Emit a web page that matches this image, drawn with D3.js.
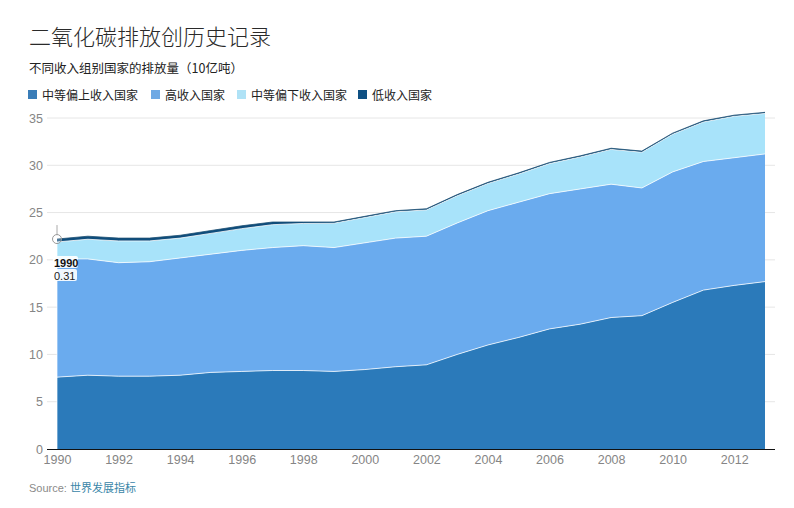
<!DOCTYPE html>
<html>
<head>
<meta charset="utf-8">
<script src="https://cdn.jsdelivr.net/npm/d3@7"></script>
<style>
  html, body { margin: 0; padding: 0; background: #fff; }
  svg { display: block; }
</style>
</head>
<body>
<svg id="chart" width="794" height="508"></svg>
<script>
const years = [1990,1991,1992,1993,1994,1995,1996,1997,1998,1999,2000,2001,2002,2003,2004,2005,2006,2007,2008,2009,2010,2011,2012,2013];
const seriesNames = ["中等偏上收入国家", "高收入国家", "中等偏下收入国家", "低收入国家"];
const upperMiddle = [7.6,7.8,7.7,7.7,7.8,8.1,8.2,8.3,8.3,8.2,8.4,8.7,8.9,10.0,11.0,11.8,12.7,13.2,13.9,14.1,15.5,16.8,17.3,17.7];
const highIncome  = [12.5,12.3,12.0,12.1,12.4,12.5,12.8,13.0,13.2,13.1,13.4,13.6,13.6,13.9,14.2,14.3,14.3,14.3,14.1,13.5,13.8,13.6,13.5,13.5];
const lowerMiddle = [1.79,2.08,2.3,2.2,2.1,2.2,2.3,2.42,2.35,2.58,2.68,2.78,2.78,2.88,2.88,2.98,3.18,3.38,3.68,3.78,3.98,4.18,4.38,4.28];
const lowIncome   = [0.31,0.32,0.30,0.30,0.30,0.30,0.30,0.28,0.15,0.12,0.12,0.12,0.12,0.12,0.12,0.12,0.12,0.12,0.12,0.12,0.12,0.12,0.12,0.12];
const yTicks = [0,5,10,15,20,25,30,35];
const xTicks = [1990,1992,1994,1996,1998,2000,2002,2004,2006,2008,2010,2012];
const colors = ["#2b7aba", "#6aabee", "#a8e3fa", "#0e4d7c"];
const legendColors = ["#3a7db8", "#6fa9e4", "#afe2f6", "#0f5083"];

const table = years.map((y, i) => ({
  year: y,
  [seriesNames[0]]: upperMiddle[i],
  [seriesNames[1]]: highIncome[i],
  [seriesNames[2]]: lowerMiddle[i],
  [seriesNames[3]]: lowIncome[i]
}));

const svg = d3.select("#chart");
const cjk = "'Noto Sans CJK SC', 'Noto Sans', sans-serif";
const latin = "'Liberation Sans', Arial, sans-serif";

// Title & subtitle
svg.append("text").attr("x", 29).attr("y", 45)
  .style("font-family", cjk).style("font-size", "22px").style("font-weight", 300)
  .attr("fill", "#2a2a2a").text("二氧化碳排放创历史记录");
svg.append("text").attr("x", 29).attr("y", 73)
  .style("font-family", cjk).style("font-size", "12.5px")
  .attr("fill", "#222").text("不同收入组别国家的排放量（10亿吨）");

// Legend
const legendX = [28, 151, 237, 358];
seriesNames.forEach((name, i) => {
  const g = svg.append("g").attr("transform", `translate(${legendX[i]},90)`);
  g.append("rect").attr("width", 9).attr("height", 9).attr("fill", legendColors[i]);
  g.append("text").attr("x", 14).attr("y", 9.5)
    .style("font-family", cjk).style("font-size", "12px")
    .attr("fill", "#222").text(name);
});

// Scales
const x = d3.scaleLinear().domain([1990, 2013]).range([57, 765]);
const y = d3.scaleLinear().domain([0, 35]).range([449, 118]);

// Grid
svg.append("g").selectAll("line").data(yTicks.filter(d => d > 0)).join("line")
  .attr("x1", 47).attr("x2", 775)
  .attr("y1", d => y(d)).attr("y2", d => y(d))
  .attr("stroke", "#e6e6e6").attr("stroke-width", 1);

// Stack
const stack = d3.stack().keys(seriesNames);
const stacked = stack(table);
const area = d3.area()
  .x(d => x(d.data.year))
  .y0(d => y(d[0]))
  .y1(d => y(d[1]))
  .curve(d3.curveLinear);
const topLine = d3.line()
  .x(d => x(d.data.year))
  .y(d => y(d[1]))
  .curve(d3.curveLinear);

svg.append("g").selectAll("path.area").data(stacked).join("path")
  .attr("class", "area")
  .attr("d", area)
  .attr("fill", (d, i) => colors[i]);

svg.append("g").selectAll("path.edge").data(stacked.slice(0, 3)).join("path")
  .attr("class", "edge")
  .attr("d", topLine)
  .attr("fill", "none")
  .attr("stroke", "rgba(255,255,255,0.75)")
  .attr("stroke-width", 1);

// top line of low income
svg.append("path").datum(stacked[3])
  .attr("d", topLine).attr("fill", "none")
  .attr("stroke", "#1d4f72").attr("stroke-width", 0.8);

// Axes
const yAxis = d3.axisLeft(y).tickValues(yTicks).tickSize(0).tickPadding(4);
const yg = svg.append("g").attr("transform", "translate(47,0)").call(yAxis);
yg.select(".domain").remove();
yg.selectAll("text").style("font-family", latin).style("font-size", "12.5px").attr("fill", "#858585");

const xAxis = d3.axisBottom(x).tickValues(xTicks).tickFormat(d3.format("d")).tickSize(0).tickPadding(6);
const xg = svg.append("g").attr("transform", "translate(0,449)").call(xAxis);
xg.select(".domain").remove();
xg.selectAll("text").style("font-family", latin).style("font-size", "12.5px").attr("fill", "#858585");
svg.append("line").attr("x1", 47).attr("x2", 775).attr("y1", 449.5).attr("y2", 449.5)
  .attr("stroke", "#111").attr("stroke-width", 1.2);

// Hover marker at 1990
const hx = x(years[0]);
const hy = y(stacked[3][0][1]);
svg.append("line").attr("x1", hx).attr("x2", hx).attr("y1", hy - 14).attr("y2", hy - 4)
  .attr("stroke", "#aaa").attr("stroke-width", 1);
svg.append("line").attr("x1", hx).attr("x2", hx).attr("y1", hy + 4).attr("y2", y(0))
  .attr("stroke", "rgba(255,255,255,0.7)").attr("stroke-width", 1);
svg.append("circle").attr("cx", hx).attr("cy", hy).attr("r", 4.5)
  .attr("fill", "rgba(255,255,255,0.25)").attr("stroke", "#999").attr("stroke-width", 1);

const tip = svg.append("g");
tip.append("rect").attr("x", hx - 4).attr("y", hy + 17).attr("width", 25).attr("height", 12)
  .attr("rx", 2).attr("fill", "rgba(255,255,255,0.9)");
tip.append("rect").attr("x", hx - 4).attr("y", hy + 30).attr("width", 24).attr("height", 12)
  .attr("rx", 2).attr("fill", "rgba(255,255,255,0.9)");
tip.append("text").attr("x", hx - 3).attr("y", hy + 27.5)
  .style("font-family", latin).style("font-size", "11px").style("font-weight", "bold")
  .attr("fill", "#111").text(years[0]);
tip.append("text").attr("x", hx - 3).attr("y", hy + 40.5)
  .style("font-family", latin).style("font-size", "11px")
  .attr("fill", "#222").text(d3.format(".2f")(lowIncome[0]));

// Source
const src = svg.append("text").attr("x", 29).attr("y", 492)
  .style("font-size", "11px");
src.append("tspan").style("font-family", latin).attr("fill", "#8a8a8a").text("Source: ");
src.append("tspan").style("font-family", cjk).attr("fill", "#3a86a8").text("世界发展指标");
</script>
</body>
</html>
